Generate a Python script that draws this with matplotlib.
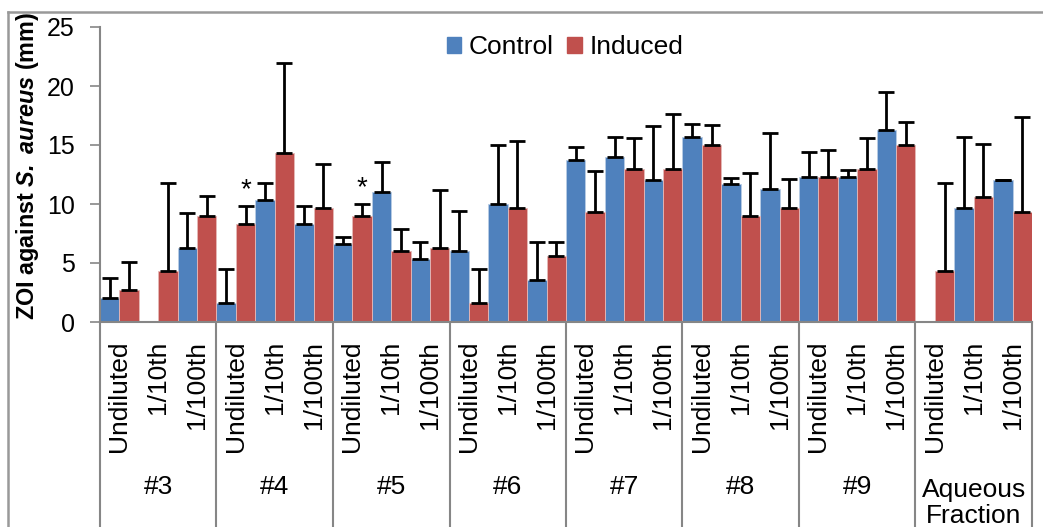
import matplotlib
matplotlib.use("Agg")
import matplotlib.pyplot as plt
import numpy as np
from matplotlib.lines import Line2D
from matplotlib.patches import Patch
from matplotlib.transforms import blended_transform_factory

plt.rcParams['font.family'] = ['Liberation Sans', 'DejaVu Sans']
plt.rcParams['mathtext.fontset'] = 'custom'
plt.rcParams['mathtext.rm'] = 'Liberation Sans:bold'
plt.rcParams['mathtext.bfit'] = 'Liberation Sans:bold:italic'
plt.rcParams['mathtext.it'] = 'Liberation Sans:bold:italic'

groups = ['#3', '#4', '#5', '#6', '#7', '#8', '#9', 'Aqueous\nFraction']
dilutions = ['Undiluted', '1/10th', '1/100th']

control = [2.0, 0.0, 6.3, 1.6, 10.3, 8.3, 6.6, 11.0, 5.3, 6.0, 10.0, 3.6,
           13.7, 14.0, 12.0, 15.7, 11.7, 11.3, 12.3, 12.3, 16.3, 0.0, 9.7, 12.0]
control_err = [1.7, 0.0, 2.9, 2.9, 1.5, 1.5, 0.6, 2.6, 1.5, 3.4, 5.0, 3.2,
               1.1, 1.7, 4.6, 1.1, 0.5, 4.7, 2.1, 0.55, 3.2, 0.0, 6.0, 0.05]
induced = [2.7, 4.3, 9.0, 8.3, 14.3, 9.7, 9.0, 6.0, 6.3, 1.6, 9.7, 5.6,
           9.3, 13.0, 13.0, 15.0, 9.0, 9.7, 12.3, 13.0, 15.0, 4.3, 10.6, 9.3]
induced_err = [2.4, 7.5, 1.7, 1.5, 7.65, 3.7, 1.0, 1.9, 4.9, 2.9, 5.6, 1.15,
               3.5, 2.6, 4.6, 1.7, 3.6, 2.4, 2.3, 2.6, 1.95, 7.5, 4.5, 8.1]
# induced bars flagged as significant (index into the 24 categories)
significant = [3, 6]

W, H = 1043, 527
fig = plt.figure(figsize=(W / 100, H / 100), dpi=100)

# plot area in pixel coordinates
left_px, right_px, top_px, bottom_px = 100, 1032, 27, 322
ax = fig.add_axes([left_px / W, 1 - bottom_px / H,
                   (right_px - left_px) / W, (bottom_px - top_px) / H])

n = len(control)
x = np.arange(n)
blue = '#4F81BD'
red = '#C0504D'
grey = '#868686'
fs = 19

ax.bar(x - 0.25, control, width=0.5, color=blue, edgecolor='#b9cde5', linewidth=0.6,
       zorder=2)
ax.bar(x + 0.25, induced, width=0.5, color=red, edgecolor='#e6b9b8', linewidth=0.6,
       zorder=2)

err_kw = dict(fmt='none', ecolor='black', elinewidth=2, capsize=6, capthick=2, zorder=3)
cmask = np.array(control_err) > 0
ax.errorbar((x - 0.25)[cmask], np.array(control)[cmask],
            yerr=[np.zeros(cmask.sum()), np.array(control_err)[cmask]], **err_kw)
ax.errorbar(x + 0.25, induced, yerr=[np.zeros(n), induced_err], **err_kw)

for i in significant:
    ax.annotate('*', (i + 0.25, induced[i] + induced_err[i]), xytext=(0, 2),
                textcoords='offset points', ha='center', va='bottom', fontsize=20)

ax.set_xlim(-0.5, n - 0.5)
ax.set_ylim(0, 25)
ax.set_yticks(range(0, 26, 5))
ax.tick_params(axis='y', direction='out', length=7, width=1.2, color=grey,
               labelsize=18, pad=11)
ax.set_xticks([])
for s in ['top', 'right']:
    ax.spines[s].set_visible(False)
for s in ['left', 'bottom']:
    ax.spines[s].set_color(grey)
    ax.spines[s].set_linewidth(1.5)

fig.text(28 / W, 1 - 166 / H, r'ZOI against $\mathbfit{S.\ aureus}$ (mm)',
         rotation=90, ha='center', va='center', fontsize=16.8, fontweight='bold')

# two-level category axis
tr = blended_transform_factory(ax.transData, fig.transFigure)
y_axis = 1 - bottom_px / H
for b in np.arange(-0.5, n, 3):
    fig.add_artist(Line2D([b, b], [y_axis, 0], transform=tr, color=grey,
                          linewidth=1.5, clip_on=False))
for i in range(n):
    ax.text(i, 1 - 341 / H, dilutions[i % 3], transform=tr, rotation=90,
            ha='center', va='top', fontsize=fs)
for g, name in enumerate(groups):
    ypix = 503 if '\n' in name else 487
    ax.text(3 * g + 1, 1 - ypix / H, name, transform=tr, ha='center',
            va='center', fontsize=fs, linespacing=1.15)

handles = [Patch(color=blue, label='Control'), Patch(color=red, label='Induced')]
fig.legend(handles=handles, loc='center', bbox_to_anchor=(565 / W, 1 - 47 / H),
           ncol=2, frameon=False, fontsize=fs, handlelength=0.55, handleheight=0.55,
           handletextpad=0.3, columnspacing=0.5)

# chart border
fig.add_artist(Line2D([8 / W, 1], [1 - 12 / H, 1 - 12 / H], color='#999999',
                      linewidth=1.8, transform=fig.transFigure))
fig.add_artist(Line2D([8 / W, 8 / W], [1 - 12 / H, 0], color='#999999',
                      linewidth=1.8, transform=fig.transFigure))

fig.savefig('out.png', dpi=100, facecolor='white')
